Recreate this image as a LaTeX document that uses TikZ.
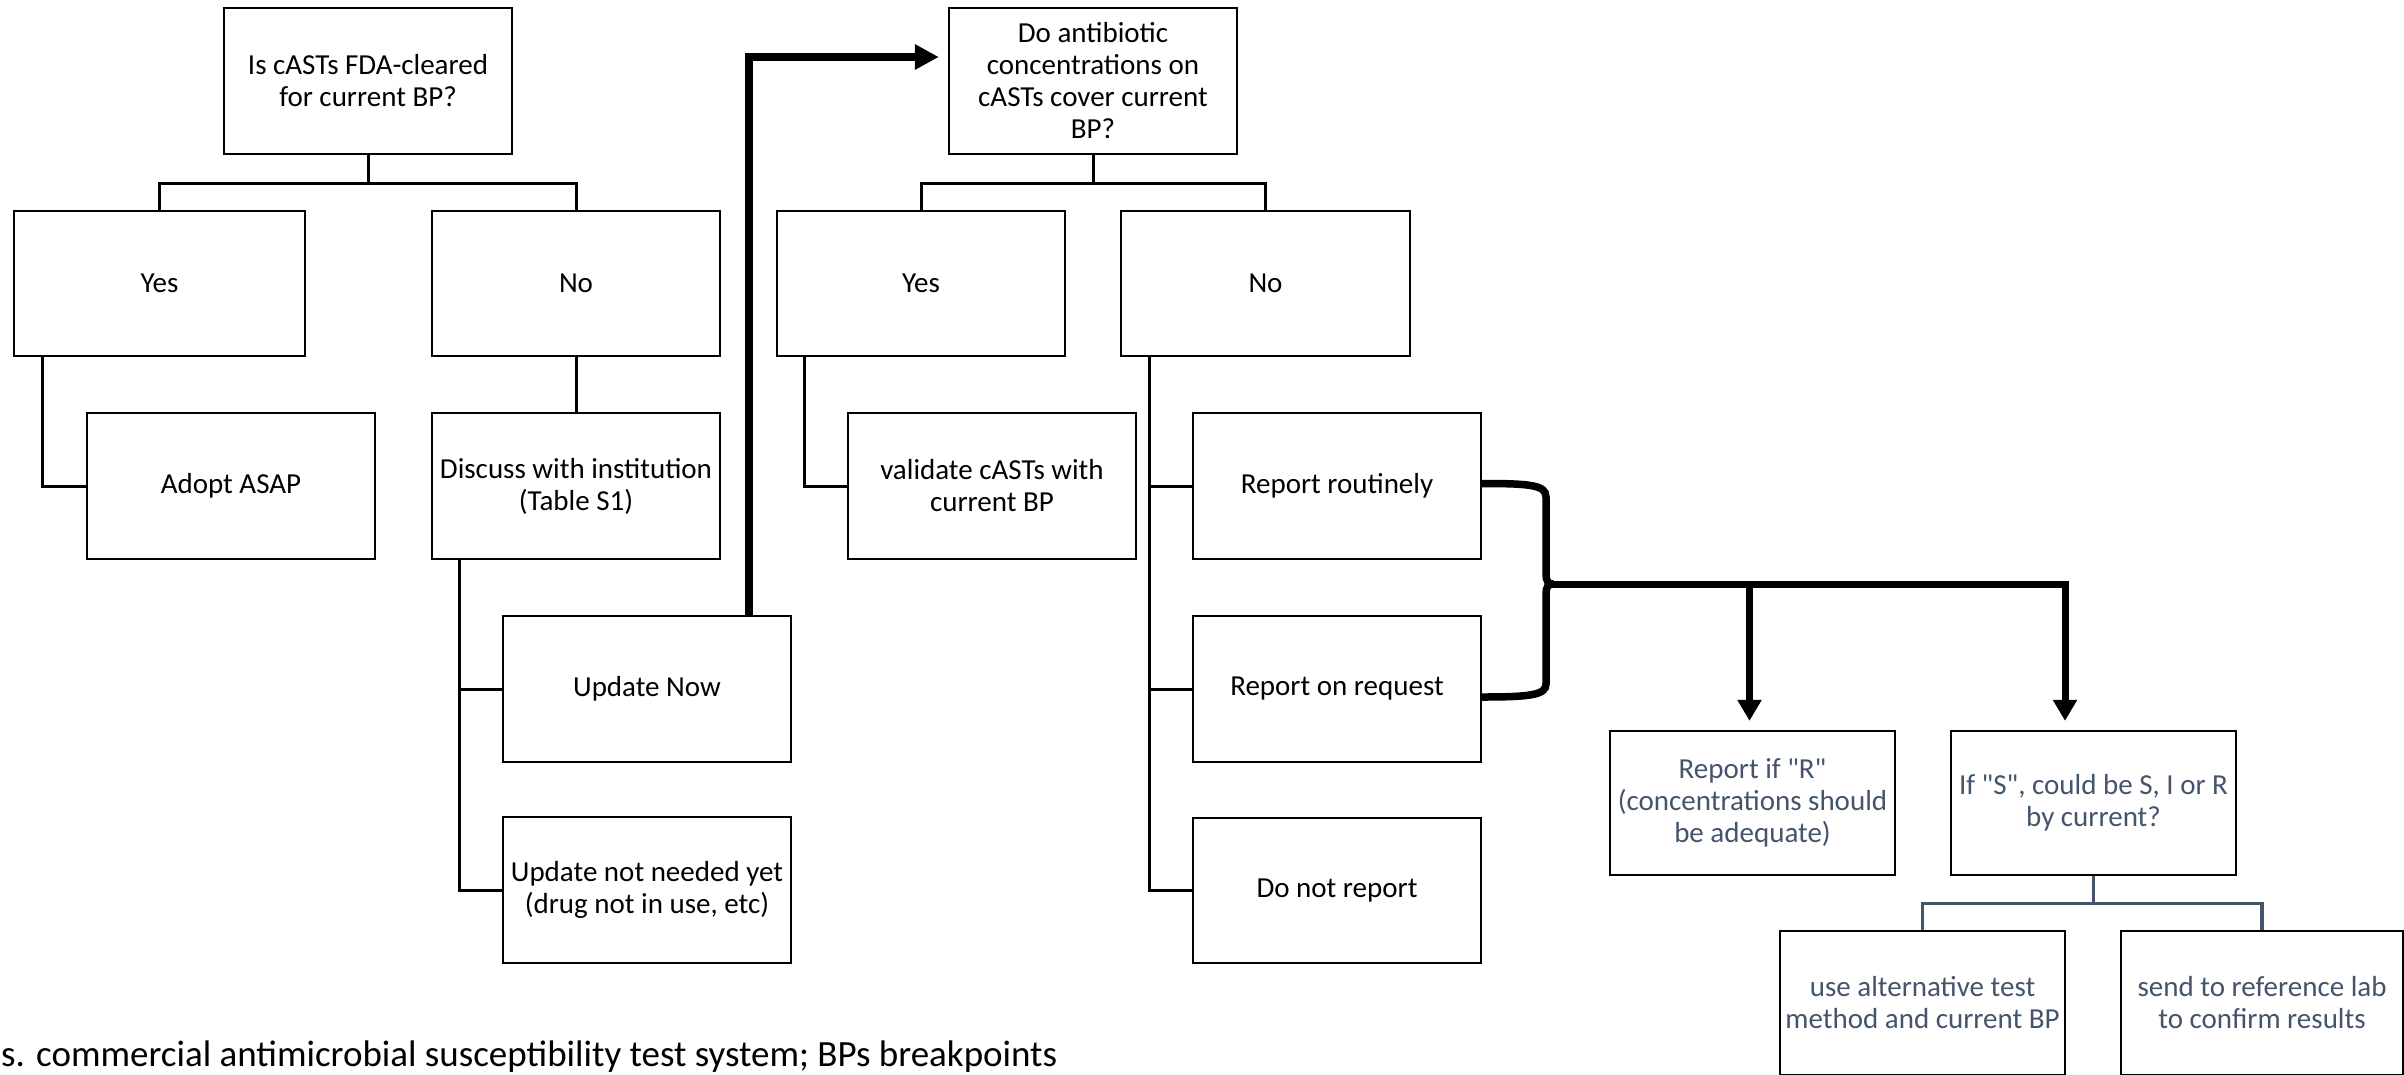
\documentclass[tikz,border=0pt]{standalone}
\usepackage{fontspec}
\setmainfont{Carlito}
\usetikzlibrary{arrows.meta,calc}
\definecolor{slate}{HTML}{44546A}
\begin{document}
\begin{tikzpicture}[x=1pt,y=-1pt,
  bx/.style={draw=black, line width=2.3pt, align=center, inner sep=0pt, font=\fontsize{29}{32}\selectfont},
  sz/.style 2 args={minimum width=#1pt, minimum height=#2pt},
  slatebox/.style={bx, text=slate},
  conn/.style={line width=3pt, line join=miter, black},
  slateconn/.style={line width=3.2pt, line join=miter, slate},
  thickarrow/.style={line width=8pt, line join=miter, -{Triangle[length=24pt,width=24pt]}, shorten >=9pt},
  bracestyle/.style={line width=7.5pt, line cap=butt},
  downarrow/.style={line width=7pt, line join=miter, -{Triangle[length=21pt,width=23pt]}, shorten >=9pt},
]
\useasboundingbox (0,0) rectangle (2404,1074);

% left tree
\node[bx, sz={288}{146}] (q1) at (368,81) {Is cASTs FDA-cleared\\for current BP?};
\node[bx, sz={291}{145}] (yes1) at (159.5,283.5) {Yes};
\node[bx, sz={288}{145}] (no1) at (576,283.5) {No};
\node[bx, sz={288}{146}] (adopt) at (231,486) {Adopt ASAP};
\node[bx, sz={288}{146}] (disc) at (576,486) {Discuss with institution\\(Table S1)};
\node[bx, sz={288}{146}] (upnow) at (647,689) {Update Now};
\node[bx, sz={288}{146}] (upnot) at (647,890) {Update not needed yet\\(drug not in use, etc)};

% middle tree
\node[bx, sz={288}{146}] (q2) at (1093,81) {Do antibiotic\\concentrations on\\cASTs cover current\\BP?};
\node[bx, sz={288}{145}] (yes2) at (921,283.5) {Yes};
\node[bx, sz={289}{145}] (no2) at (1265.5,283.5) {No};
\node[bx, sz={288}{146}] (valid) at (992,486) {validate cASTs with\\current BP};
\node[bx, sz={288}{146}] (rout) at (1337,486) {Report routinely};
\node[bx, sz={288}{146}] (req) at (1337,689) {Report on request};
\node[bx, sz={288}{145}] (donot) at (1337,890.5) {Do not report};

% right part
\node[slatebox, sz={285}{144}] (repR) at (1752.5,803) {Report if \textquotedbl R\textquotedbl\\(concentrations should\\be adequate)};
\node[slatebox, sz={285}{144}] (ifS) at (2093.5,803) {If \textquotedbl S\textquotedbl, could be S, I or R\\by current?};
\node[slatebox, sz={285}{144}] (usealt) at (1922.5,1003) {use alternative test\\method and current BP};
\node[slatebox, sz={282}{144}] (send) at (2262,1003) {send to reference lab\\to confirm results};

% caption
\node[anchor=base west, inner sep=0pt, font=\fontsize{37}{40}\selectfont] (cap) at (1,1066) {s. commercial antimicrobial susceptibility test system; BPs breakpoints};

% left tree connectors
\draw[conn] (q1.south) -- ++(0,28) -| (yes1.north);
\draw[conn] (q1.south) -- ++(0,28) -| (no1.north);
\draw[conn] ([xshift=30pt]yes1.south west) |- (adopt.west);
\draw[conn] (no1.south) -- (disc.north);
\draw[conn] ([xshift=29pt]disc.south west) |- (upnow.west);
\draw[conn] ([xshift=29pt]disc.south west) |- (upnot.west);

% middle tree connectors
\draw[conn] (q2.south) -- ++(0,28) -| (yes2.north);
\draw[conn] (q2.south) -- ++(0,28) -| (no2.north);
\draw[conn] ([xshift=29pt]yes2.south west) |- (valid.west);
\draw[conn] ([xshift=30pt]no2.south west) |- (rout.west);
\draw[conn] ([xshift=30pt]no2.south west) |- (req.west);
\draw[conn] ([xshift=30pt]no2.south west) |- (donot.west);

% thick arrow from Update Now to second question
\draw[thickarrow] ([xshift=-43pt]upnow.north east) |- ([yshift=24pt]q2.west);

% brace
\coordinate (tip) at (1553,584);
\coordinate (j1) at (1749.5,584);
\coordinate (j2) at (2065,584);
\draw[bracestyle] ([yshift=2.5pt]rout.east) .. controls (1530,483.5) and (1546,485) .. (1546,497)
   -- (1546,574) .. controls (1546,581) and (1548,584) .. (tip);
\draw[bracestyle] ([yshift=-8pt]req.east) .. controls (1530,697) and (1546,695) .. (1546,684)
   -- (1546,594) .. controls (1546,587) and (1548,584) .. (tip);
\draw[downarrow] (tip) -- (j2) -- (j2 |- ifS.north);
\draw[downarrow] (j1) -- (j1 |- repR.north);

% bottom slate connectors
\draw[slateconn] (ifS.south) -- ++(0,27) -| (usealt.north);
\draw[slateconn] (ifS.south) -- ++(0,27) -| (send.north);
\end{tikzpicture}
\end{document}
